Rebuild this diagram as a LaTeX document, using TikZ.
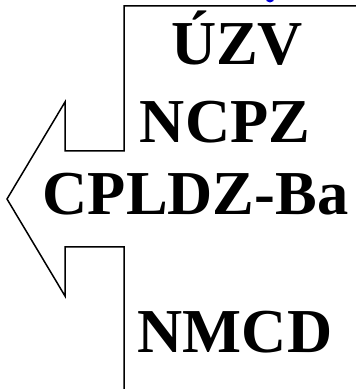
\documentclass[tikz,border=0pt]{standalone}
\usepackage{fontspec}
\setmainfont{Liberation Serif}
\usetikzlibrary{calc}

\tikzset{
  lbl/.style={anchor=base, inner sep=0pt, font=\fontsize{62.5}{70}\selectfont\bfseries},
  outline/.style={line width=1.5pt, line join=miter}
}

\begin{document}
\begin{tikzpicture}[x=1pt,y=1pt]
				%%%%% START %%%%%
				\def\W{356}
				\def\H{389}
				\def\xbar{124}
				\def\xnotch{65}
				\def\xtip{7}
				\def\ytip{190}
				\def\ytop{383}
				\def\yin{48}
				\def\yout{97}
				
				\useasboundingbox (0,0) rectangle (\W,\H);
				\clip (0,0) rectangle (\W,\H);
				
				% cut blue glyph at the upper edge
				\fill[blue!85!black] (270,\H+2) circle (4.5);
				
				% arrow outline
				\draw[outline] (\W+5,\ytop) -- (\xbar,\ytop) -- (\xbar,\ytip+\yin)
				  -- (\xnotch,\ytip+\yin) -- (\xnotch,\ytip+\yout) -- (\xtip,\ytip)
				  -- (\xnotch,\ytip-\yout) -- (\xnotch,\ytip-\yin) -- (\xbar,\ytip-\yin)
				  -- (\xbar,-5);
				
				\node[lbl] (uzv) at (237,324) {ÚZV};
				\node[lbl] (ncpz) at (225,246) {NCPZ};
				\node[lbl] (cpldz) at (195.5,174) {CPLDZ-Ba};
				\node[lbl] (nmcd) at (235,37) {NMCD};
				%%%%% END %%%%%
\end{tikzpicture}
\end{document}
